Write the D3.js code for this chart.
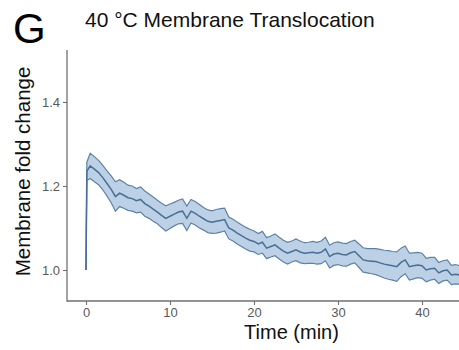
<!DOCTYPE html>
<html><head><meta charset="utf-8">
<script src="https://cdn.jsdelivr.net/npm/d3@7"></script>
<style>body{margin:0;background:#fff}svg{display:block}text{font-family:"Liberation Sans",Arial,sans-serif}</style>
</head><body><svg id="c" width="459" height="350"></svg>
<script>
const times = [0,0.1,0.5,1,1.5,2,2.5,3,3.5,4,4.5,5,5.5,6,6.5,7,7.5,8,8.5,9,9.5,10,10.5,11,11.5,12,12.5,13,13.5,14,14.5,15,15.5,16,16.5,17,17.5,18,18.5,19,19.5,20,20.5,21,21.5,22,22.5,23,23.5,24,24.5,25,25.5,26,26.5,27,27.5,28,28.5,29,29.5,30,30.5,31,31.5,32,32.5,33,33.5,34,34.5,35,35.5,36,36.5,37,37.5,38,38.5,39,39.5,40,40.5,41,41.5,42,42.5,43,43.5,44,44.5,45];
const meanVals = [1.000,1.235,1.248,1.240,1.232,1.220,1.206,1.192,1.175,1.183,1.178,1.172,1.170,1.165,1.168,1.158,1.152,1.145,1.138,1.130,1.123,1.128,1.133,1.138,1.140,1.123,1.140,1.135,1.128,1.122,1.116,1.114,1.116,1.118,1.120,1.100,1.095,1.088,1.082,1.076,1.071,1.068,1.062,1.066,1.052,1.056,1.060,1.052,1.045,1.040,1.044,1.048,1.043,1.040,1.041,1.042,1.040,1.042,1.050,1.032,1.038,1.040,1.037,1.036,1.041,1.044,1.034,1.024,1.022,1.021,1.020,1.017,1.014,1.012,1.010,1.008,1.018,1.024,1.008,1.010,1.012,1.010,1.000,1.003,1.004,0.993,0.998,1.000,0.988,0.990,0.988,0.986];
const semVals = [0.000,0.022,0.030,0.030,0.029,0.029,0.030,0.032,0.035,0.032,0.031,0.030,0.030,0.029,0.030,0.030,0.029,0.029,0.028,0.029,0.030,0.029,0.028,0.028,0.029,0.029,0.028,0.028,0.028,0.027,0.027,0.027,0.028,0.028,0.027,0.026,0.026,0.026,0.026,0.026,0.026,0.025,0.025,0.026,0.025,0.025,0.026,0.026,0.026,0.026,0.025,0.026,0.026,0.025,0.025,0.026,0.026,0.027,0.028,0.027,0.027,0.027,0.027,0.027,0.027,0.027,0.028,0.029,0.029,0.030,0.031,0.032,0.033,0.034,0.034,0.035,0.034,0.033,0.032,0.031,0.030,0.030,0.028,0.027,0.026,0.025,0.024,0.024,0.023,0.023,0.022,0.022];
const xTicks = [0,10,20,30,40];
const yTicks = [1.0,1.2,1.4];
const title = "40 °C Membrane Translocation";
const panelLabel = "G";
const xLabel = "Time (min)";
const yLabel = "Membrane fold change";

const data = times.map((t,i)=>({t, m:meanVals[i], lo:meanVals[i]-semVals[i], hi:meanVals[i]+semVals[i]}));
const svg = d3.select("#c");
const x = d3.scaleLinear().domain([0,40]).range([86,422]);
const y = d3.scaleLinear().domain([1.0,1.4]).range([270,102]);
const x0 = 67, yBot = 301, yTop = 50;

// band
svg.append("path").datum(data)
  .attr("d", d3.area().x(d=>x(d.t)).y0(d=>y(d.lo)).y1(d=>y(d.hi)))
  .attr("fill","#bcd1e6").attr("stroke","none");
const edge = (acc)=>d3.line().x(d=>x(d.t)).y(d=>y(acc(d)));
svg.append("path").datum(data).attr("d", edge(d=>d.hi)).attr("fill","none").attr("stroke","#5d82a6").attr("stroke-width",1.2);
svg.append("path").datum(data).attr("d", edge(d=>d.lo)).attr("fill","none").attr("stroke","#5d82a6").attr("stroke-width",1.2);
svg.append("path").datum(data).attr("d", edge(d=>d.m)).attr("fill","none").attr("stroke","#4a6f95").attr("stroke-width",1.5);

// axes
const axCol = "#707070";
const gx = svg.append("g").attr("transform",`translate(0,${yBot})`)
  .call(d3.axisBottom(x).tickValues(xTicks).tickSize(4).tickPadding(3).tickFormat(d3.format("d")));
gx.select(".domain").remove();
gx.selectAll("line").attr("stroke",axCol).attr("stroke-width",1.1);
gx.selectAll("text").attr("fill","#595959").attr("font-size",13).attr("font-family","Liberation Sans, Arial, sans-serif");
svg.append("line").attr("x1",x0).attr("x2",459).attr("y1",yBot).attr("y2",yBot).attr("stroke",axCol).attr("stroke-width",1.3);

const gy = svg.append("g").attr("transform",`translate(${x0},0)`)
  .call(d3.axisLeft(y).tickValues(yTicks).tickSize(4).tickPadding(3).tickFormat(d3.format(".1f")));
gy.select(".domain").remove();
gy.selectAll("line").attr("stroke",axCol).attr("stroke-width",1.1);
gy.selectAll("text").attr("fill","#595959").attr("font-size",13).attr("font-family","Liberation Sans, Arial, sans-serif");
svg.append("line").attr("x1",x0).attr("x2",x0).attr("y1",yTop).attr("y2",yBot+0.65).attr("stroke",axCol).attr("stroke-width",1.3);

// labels
svg.append("text").attr("x",13).attr("y",43).attr("font-size",42).attr("fill","#000").text(panelLabel);
svg.append("text").attr("x",85).attr("y",27).attr("font-size",21).attr("fill","#111").text(title);
svg.append("text").attr("x",291.5).attr("y",339).attr("text-anchor","middle").attr("font-size",20).attr("fill","#111").text(xLabel);
svg.append("text").attr("transform","translate(30,171.5) rotate(-90)").attr("text-anchor","middle").attr("font-size",20.5).attr("fill","#111").text(yLabel);
</script></body></html>
